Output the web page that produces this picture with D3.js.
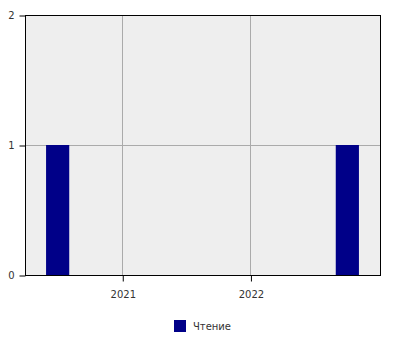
<!DOCTYPE html>
<html>
<head>
<meta charset="utf-8">
<script src="https://cdn.jsdelivr.net/npm/d3@7"></script>
<style>
body { margin: 0; background: #fff; }
text { font-family: "DejaVu Sans", sans-serif; font-size: 10px; fill: #333; }
</style>
</head>
<body>
<script>
// data
var dates = ["2020-07-01", "2022-10-04"];
var values = [1, 1];
var seriesName = "Чтение";
var yTicks = [0, 1, 2];
var xTicks = ["2021-01-01", "2022-01-01"];

var w = 400, h = 350;
var m = {top: 15, right: 20, bottom: 75, left: 25};
var iw = w - m.left - m.right, ih = h - m.top - m.bottom;

var parse = d3.utcParse("%Y-%m-%d");
var data = dates.map(function(d, i) { return {date: parse(d), value: values[i]}; });

var pad = 93 * 864e5;   // domain padding, ms
var barDays = 66 * 864e5;

var x = d3.scaleUtc()
    .domain([new Date(+data[0].date - pad), new Date(+data[data.length - 1].date + pad)])
    .range([0, iw]);
var y = d3.scaleLinear().domain([0, 2]).range([ih, 0]);

var svg = d3.select("body").append("svg")
    .attr("width", w)
    .attr("height", h);

var g = svg.append("g").attr("transform", "translate(" + m.left + "," + m.top + ")");

g.append("rect")
    .attr("width", iw)
    .attr("height", ih)
    .attr("fill", "#eeeeee");

// grid
g.selectAll(".vgrid")
    .data(xTicks.map(parse))
    .enter().append("line")
    .attr("x1", function(d) { return Math.round(x(d)) + 0.5; })
    .attr("x2", function(d) { return Math.round(x(d)) + 0.5; })
    .attr("y1", 0).attr("y2", ih)
    .attr("stroke", "#aaaaaa");

g.selectAll(".hgrid")
    .data(yTicks.slice(1, -1))
    .enter().append("line")
    .attr("x1", 0).attr("x2", iw)
    .attr("y1", function(d) { return Math.round(y(d)) + 0.5; })
    .attr("y2", function(d) { return Math.round(y(d)) + 0.5; })
    .attr("stroke", "#aaaaaa");

// bars
g.selectAll(".bar")
    .data(data)
    .enter().append("rect")
    .attr("x", function(d) { return x(new Date(+d.date - barDays / 2)); })
    .attr("width", function(d) { return x(new Date(+d.date + barDays / 2)) - x(new Date(+d.date - barDays / 2)); })
    .attr("y", function(d) { return y(d.value); })
    .attr("height", function(d) { return ih - y(d.value); })
    .attr("fill", "#000088");

// frame
g.append("rect")
    .attr("x", 0.5).attr("y", 0.5)
    .attr("width", iw).attr("height", ih)
    .attr("fill", "none")
    .attr("stroke", "#000");

// axes
var yAxis = d3.axisLeft(y).tickValues(yTicks).tickFormat(d3.format("d")).tickSize(6).tickPadding(5);
var ya = g.append("g").attr("transform", "translate(0.5,0.5)").call(yAxis);

var xAxis = d3.axisBottom(x).tickValues(xTicks.map(parse)).tickFormat(d3.utcFormat("%Y")).tickSize(6).tickPadding(9);
var xa = g.append("g").attr("transform", "translate(0.5," + (ih + 0.5) + ")").call(xAxis);

[ya, xa].forEach(function(a) {
    a.select(".domain").remove();
    a.selectAll(".tick line").attr("stroke", "#000");
    a.selectAll(".tick text").attr("fill", "#333").style("font-size", "10px").style("font-family", "DejaVu Sans");
});

// legend
var lg = svg.append("g").attr("transform", "translate(174,320)");
lg.append("rect").attr("width", 12).attr("height", 12).attr("fill", "#000088");
lg.append("text").attr("x", 19).attr("y", 10).text(seriesName);
</script>
</body>
</html>
